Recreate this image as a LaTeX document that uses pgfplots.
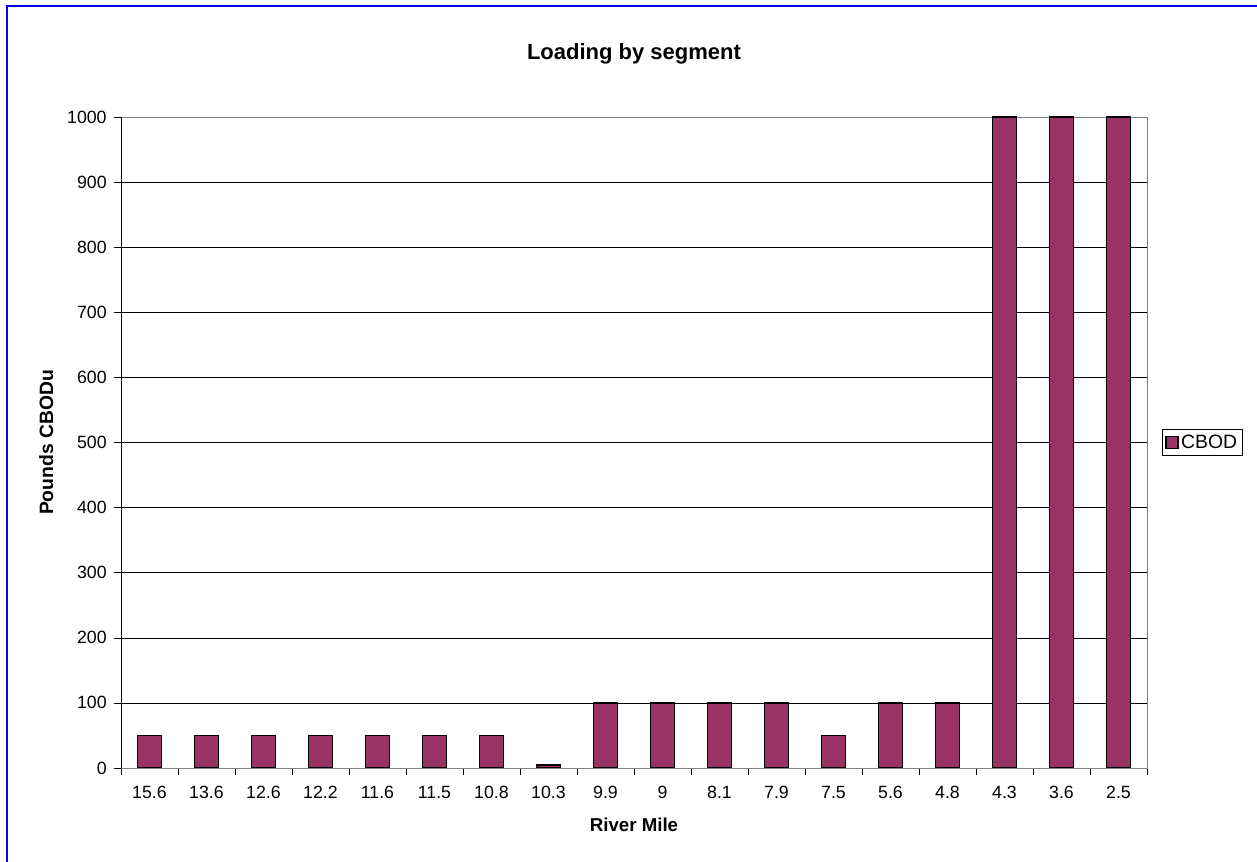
\documentclass[border=0pt]{standalone}
\usepackage{pgfplots}
\pgfplotsset{compat=1.18}
\usepackage{fontspec}
\setmainfont{Liberation Sans}
\definecolor{barc}{HTML}{993366}
\begin{document}
\begin{tikzpicture}
\useasboundingbox (0,0) rectangle (942.75pt,646.5pt);
\draw[blue, line width=1.5pt] (5.25pt,-2pt) -- (5.25pt,642pt) -- (945pt,642pt);
\begin{axis}[
  at={(90.75pt,70.5pt)}, anchor=south west,
  width=769.5pt, height=488.25pt, scale only axis,
  font=\fontsize{13.3}{15}\selectfont,
  xmin=-0.5, xmax=17.5, ymin=0, ymax=1000,
  xtick={-0.5,0.5,...,17.5},
  xticklabels={},
  extra x ticks={0,...,17},
  extra x tick labels={15.6,13.6,12.6,12.2,11.6,11.5,10.8,10.3,9.9,9,8.1,7.9,7.5,5.6,4.8,4.3,3.6,2.5},
  extra x tick style={major tick length=0pt, grid=none},
  xticklabel style={text height=9.6pt, text depth=0pt, yshift=-10pt},
  xtick pos=bottom, ytick pos=left,
  ytick={0,100,...,1000},
  tick align=outside, major tick length=5.25pt,
  tick style={black, thin},
  ymajorgrids, grid style={black, thin},
  axis line style={gray},
  /pgf/number format/assume math mode=true,
  yticklabel style={/pgf/number format/1000 sep={}, xshift=-2pt},
  title={\textbf{Loading by segment}},
  title style={at={(axis description cs:0.5,1.0844)}, anchor=center, font=\fontsize{16.5}{18}\selectfont},
  xlabel={\textbf{River Mile}},
  xlabel style={at={(axis description cs:0.5,-0.0876)}, anchor=center, font=\fontsize{14}{17}\selectfont},
  ylabel={\textbf{Pounds CBODu}},
  ylabel style={at={(axis description cs:-0.073,0.5)}, anchor=center, font=\fontsize{14.5}{17}\selectfont},
  legend style={at={(1.0146,0.5)}, anchor=west, draw=black, font=\fontsize{14.5}{17}\selectfont, inner sep=2pt},
  legend image code/.code={\draw[#1] (0pt,-4.5pt) rectangle (9pt,4.5pt);},
]
\addplot[ybar, bar width=18pt, fill=barc, draw=black, line width=1.2pt] coordinates {
(0,50) (1,50) (2,50) (3,50) (4,50) (5,50) (6,50) (7,5) (8,100) (9,100)
(10,100) (11,100) (12,50) (13,100) (14,100) (15,1000) (16,1000) (17,1000)};
\addlegendentry{CBOD}
\draw[black, thin] (rel axis cs:0,1) -- (rel axis cs:0,0) -- (rel axis cs:1,0);
\end{axis}
\end{tikzpicture}
\end{document}
